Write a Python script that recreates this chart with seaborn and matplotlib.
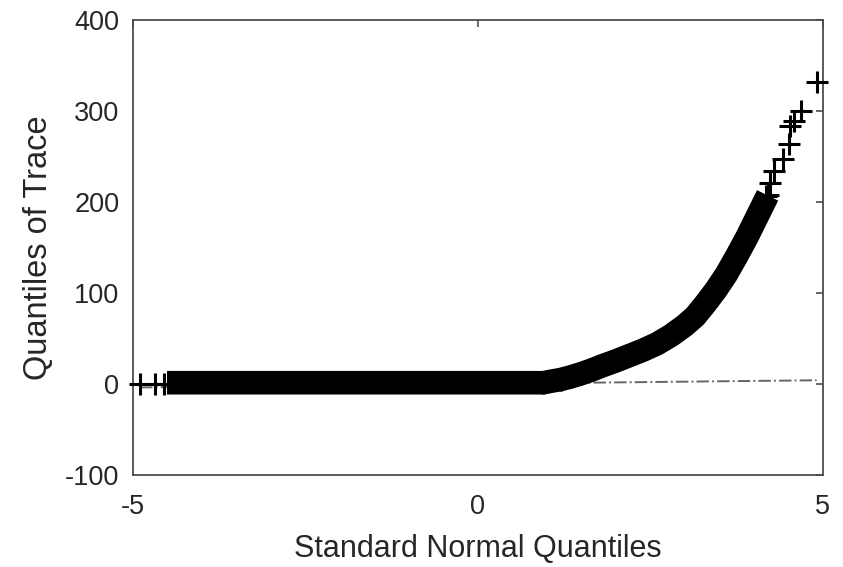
import seaborn as sns
import matplotlib.pyplot as plt

# qq plot of trace values vs standard normal quantiles
# dense part of the cloud (points overlap into a solid band)
band_q = [-4.51, 0.95, 1.05, 1.20, 1.35, 1.50, 1.65, 1.80, 2.00, 2.20, 2.40,
          2.60, 2.80, 3.00, 3.15, 3.30, 3.45, 3.60, 3.75, 3.90, 4.05, 4.20]
band_trace = [1, 1, 2.5, 4.5, 7.5, 11, 15, 19.5, 25, 31, 37,
              44, 53, 64, 74, 88, 103, 120, 140, 161, 184, 207]

# single points that stand apart at both ends
tail_q = [-4.90, -4.68, -4.56, 4.17, 4.24, 4.30, 4.42, 4.51, 4.53, 4.59, 4.68, 4.91]
tail_trace = [0, 0, 0, 206, 221, 234, 247, 263, 283, 289, 300, 332]

# reference line through the quartiles
ref_q = [-4.90, 4.91]
ref_trace = [-4.2, 3.7]

sns.set_style("white")
plt.rcParams["font.family"] = ["Liberation Sans", "DejaVu Sans"]
plt.rcParams["axes.unicode_minus"] = False
text_color = "#262626"

fig = plt.figure(figsize=(8.43, 5.67), dpi=100)
ax = fig.add_axes([0.158, 0.163, 0.818, 0.802])

sns.lineplot(x=ref_q, y=ref_trace, ax=ax, color="0.4", linestyle="-.",
             linewidth=1.4, estimator=None, sort=False, zorder=1)
sns.lineplot(x=band_q, y=band_trace, ax=ax, color="black", linewidth=17,
             estimator=None, sort=False, solid_capstyle="butt",
             solid_joinstyle="round", zorder=2)
sns.scatterplot(x=band_q[1:], y=band_trace[1:], ax=ax, marker="+", s=240,
                color="black", linewidth=2.2, zorder=3)
sns.scatterplot(x=tail_q, y=tail_trace, ax=ax, marker="+", s=240,
                color="black", linewidth=2.2, zorder=3, clip_on=False)

ax.set_xlim(-5, 5)
ax.set_ylim(-100, 400)
ax.set_xticks([-5, 0, 5])
ax.set_yticks([-100, 0, 100, 200, 300, 400])
ax.tick_params(direction="in", length=5, width=1.2, color="#4d4d4d",
               top=True, right=True, labelsize=19.5, labelcolor=text_color)
ax.tick_params(axis="x", pad=14)
ax.tick_params(axis="y", pad=10)
for spine in ax.spines.values():
    spine.set_visible(True)
    spine.set_color("#4d4d4d")
    spine.set_linewidth(1.3)

ax.set_xlabel("Standard Normal Quantiles", fontsize=22, color=text_color, labelpad=10)
ax.set_ylabel("Quantiles of Trace", fontsize=23.5, color=text_color, labelpad=8)

fig.savefig("out.png", dpi=100)
